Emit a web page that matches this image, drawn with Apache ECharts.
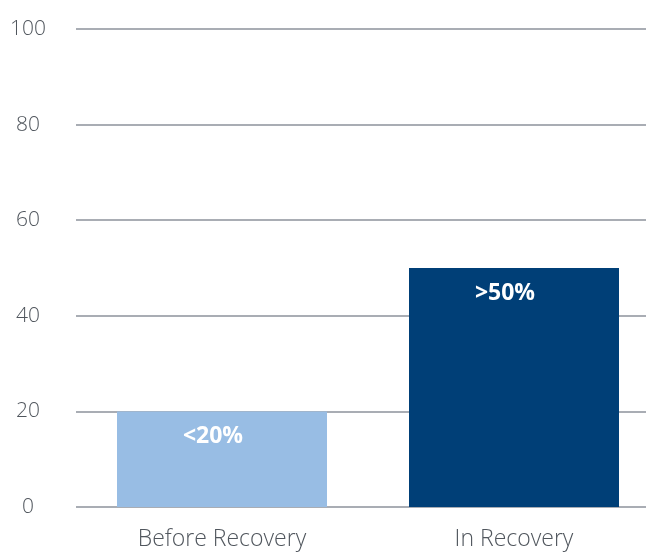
<!DOCTYPE html>
<html><head><meta charset="utf-8">
<script src="https://cdn.jsdelivr.net/npm/echarts@6/dist/echarts.min.js"></script>
<style>html,body{margin:0;padding:0;background:#fff;overflow:hidden;width:646px;height:554px}#c{width:660px;height:554px}</style>
</head><body><div id="c"></div>
<script>
const categories = ['Before Recovery', 'In Recovery'];
const values = [20, 50];
const barLabels = ['<20%', '>50%'];
const barColors = ['#98bde4', '#003f77'];
const yTicks = [0, 20, 40, 60, 80, 100];

const chart = echarts.init(document.getElementById('c'));
chart.setOption({
  animation: false,
  grid: { left: 76, right: 0, top: 29, bottom: 47 },
  xAxis: {
    type: 'category',
    data: categories,
    axisLine: { show: false },
    axisTick: { show: false },
    axisLabel: { color: '#50565d', fontSize: 23, fontFamily: 'Open Sans', fontWeight: 300, margin: 21 }
  },
  yAxis: {
    type: 'value',
    min: yTicks[0],
    max: yTicks[yTicks.length - 1],
    interval: 20,
    axisLine: { show: false },
    axisTick: { show: false },
    splitLine: { lineStyle: { color: '#a9adb4', width: 2 } },
    axisLabel: { color: '#50565d', fontSize: 21, fontFamily: 'Open Sans', fontWeight: 300, align: 'center', margin: 48 }
  },
  series: [{
    type: 'bar',
    barWidth: 210,
    data: values.map((v, i) => ({ value: v, itemStyle: { color: barColors[i] } })),
    label: {
      show: true,
      position: 'insideTop',
      distance: 14,
      offset: [-9, 0],
      color: '#ffffff',
      fontSize: 23,
      fontWeight: 'bold',
      fontFamily: 'Open Sans',
      formatter: p => barLabels[p.dataIndex]
    }
  }]
});
</script></body></html>
